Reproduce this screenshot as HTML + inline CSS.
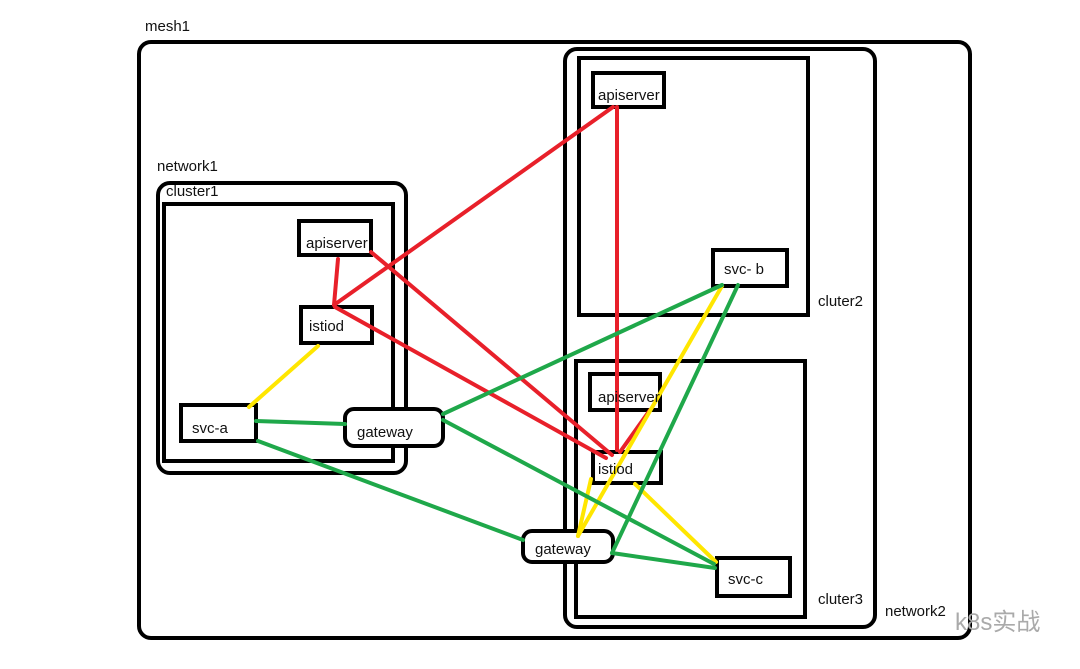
<!DOCTYPE html>
<html><head><meta charset="utf-8"><style>
html,body{margin:0;padding:0;background:#fff;}
svg{display:block;}
text{font-family:"Liberation Sans","Noto Sans CJK SC",sans-serif;font-size:15px;fill:#111;}
</style></head><body>
<svg width="1080" height="669" viewBox="0 0 1080 669" xmlns="http://www.w3.org/2000/svg">
<g fill="none" stroke="#000">
<rect x="139" y="42" width="831" height="596" rx="12" stroke-width="4"/>
<rect x="565" y="49" width="310" height="578" rx="12" stroke-width="4"/>
<rect x="579" y="58" width="229" height="257" stroke-width="4"/>
<rect x="576" y="361" width="229" height="256" stroke-width="4"/>
<rect x="158" y="183" width="248" height="290" rx="12" stroke-width="4"/>
<rect x="164" y="204" width="229" height="257" stroke-width="4"/>
<rect x="299" y="221" width="72" height="34" stroke-width="4"/>
<rect x="301" y="307" width="71" height="36" stroke-width="4"/>
<rect x="181" y="405" width="75" height="36" stroke-width="4"/>
<rect x="593" y="73" width="71" height="34" stroke-width="4"/>
<rect x="713" y="250" width="74" height="36" stroke-width="4"/>
<rect x="590" y="374" width="70" height="36" stroke-width="4"/>
<rect x="593" y="452" width="68" height="31" stroke-width="4"/>
<rect x="717" y="558" width="73" height="38" stroke-width="4"/>
</g>
<g fill="#fff" stroke="#000" stroke-width="4">
<rect x="345" y="409" width="98" height="37" rx="9"/>
<rect x="523" y="531" width="90" height="31" rx="9"/>
</g>
<g stroke-width="4" fill="none" stroke-linecap="round">
<g stroke="#e8202a">
<line x1="617" y1="107" x2="617" y2="450"/>
<line x1="613" y1="107" x2="334" y2="305"/>
<line x1="338" y1="259" x2="334" y2="305"/>
<line x1="371" y1="252" x2="612" y2="455"/>
<line x1="335" y1="307" x2="606" y2="458"/>
<line x1="650" y1="410" x2="620" y2="452"/>
</g>
<g stroke="#ffe600">
<line x1="318" y1="346" x2="249" y2="407"/>
<line x1="591" y1="479" x2="578" y2="536"/>
<line x1="722" y1="286" x2="578" y2="536"/>
<line x1="635" y1="484" x2="716" y2="562"/>
</g>
<g stroke="#1fa84a">
<line x1="256" y1="421" x2="345" y2="424"/>
<line x1="258" y1="441" x2="523" y2="540"/>
<line x1="443" y1="414" x2="722" y2="285"/>
<line x1="443" y1="420" x2="714" y2="564"/>
<line x1="738" y1="285" x2="612" y2="553"/>
<line x1="612" y1="553" x2="715" y2="568"/>
</g>
</g>
<text x="145" y="31">mesh1</text>
<text x="157" y="171">network1</text>
<text x="166" y="196">cluster1</text>
<text x="306" y="248">apiserver</text>
<text x="309" y="331">istiod</text>
<text x="192" y="433">svc-a</text>
<text x="357" y="437">gateway</text>
<text x="598" y="100">apiserver</text>
<text x="724" y="274">svc- b</text>
<text x="818" y="306">cluter2</text>
<text x="598" y="402">apiserver</text>
<text x="598" y="474">istiod</text>
<text x="535" y="554">gateway</text>
<text x="728" y="584">svc-c</text>
<text x="818" y="604">cluter3</text>
<text x="885" y="616">network2</text>
<text x="955" y="630" style="font-size:24px;fill:#aaa">k8s实战</text>
</svg>
</body></html>
